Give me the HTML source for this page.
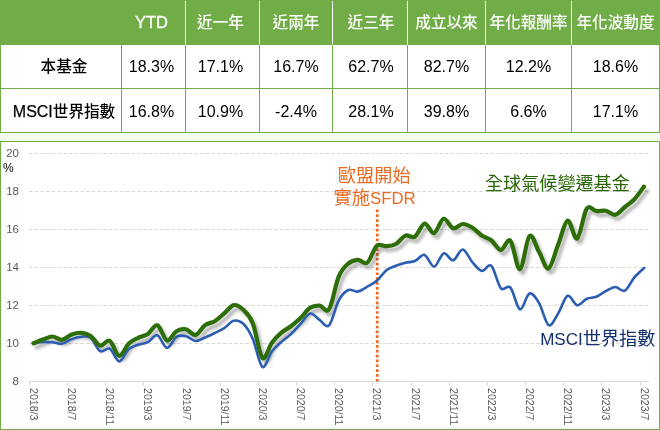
<!DOCTYPE html>
<html><head><meta charset="utf-8"><style>
*{margin:0;padding:0;box-sizing:border-box}
html,body{width:660px;height:430px;background:#fff;overflow:hidden}
body{position:relative;font-family:"Liberation Sans","Noto Sans CJK TC",sans-serif}
.hdr{position:absolute;left:0;top:0;width:660px;height:45px;background:#70AD47}
.tb{position:absolute;left:0;top:45px;width:660px;height:88px;border:1px solid #70AD47;border-top:none}
.hl{position:absolute;left:0;width:660px;height:1px;background:#70AD47}
.gap{position:absolute;left:0;top:133px;width:660px;height:8px;background:#F3FCEE}
.vw{position:absolute;top:1px;width:1px;height:44px;background:#fff}
.vg{position:absolute;top:45px;width:1px;height:88px;background:#70AD47}
.c{will-change:transform;position:absolute;display:flex;align-items:center;justify-content:center;font-size:16px;color:#000;white-space:nowrap}
.c0{-webkit-text-stroke:0.25px #000}
.c.h{color:#fff;-webkit-text-stroke:0}
.cj{-webkit-text-stroke:0}
.c.h .cj{font-weight:500;top:-2px}
.ytd{font-size:16.5px;-webkit-text-stroke:0.35px #fff}
.cj{position:relative;top:-1.5px;font-weight:500;font-size:15.6px}
.chart{position:absolute;left:0;top:141px;width:660px;height:289px;border:1px solid #70AD47}
svg{position:absolute;left:0;top:0;will-change:transform}
.gl{stroke:#D9D9D9;stroke-width:1;stroke-dasharray:3.7 2}
.ax{stroke:#D9D9D9;stroke-width:1}
.yl{font-size:11.5px;fill:#595959;text-anchor:end;font-family:"Liberation Sans",sans-serif}
.xl{font-size:10.6px;fill:#595959;font-family:"Liberation Sans",sans-serif}
</style></head><body>
<div class="hdr"></div>
<div class="tb"></div>
<div class="hl" style="top:88px"></div>
<div class="gap"></div>
<div class="vw" style="left:185px"></div><div class="vw" style="left:259px"></div><div class="vw" style="left:332px"></div><div class="vw" style="left:407px"></div><div class="vw" style="left:485px"></div><div class="vw" style="left:571px"></div><div class="vg" style="left:121px"></div><div class="vg" style="left:185px"></div><div class="vg" style="left:259px"></div><div class="vg" style="left:332px"></div><div class="vg" style="left:407px"></div><div class="vg" style="left:485px"></div><div class="vg" style="left:571px"></div>
<div class="c h" style="left:4.0px;width:120px;top:0;height:45px"></div><div class="c" style="left:4.0px;width:120px;top:45px;height:43px"><span class="cj">本基金</span></div><div class="c c0" style="left:4.0px;width:120px;top:90.3px;height:43px">MSCI<span class="cj">世界指數</span></div><div class="c h" style="left:120.0px;width:63px;top:0;height:45px"><span class="ytd">YTD</span></div><div class="c" style="left:120.0px;width:63px;top:45px;height:43px">18.3%</div><div class="c" style="left:120.0px;width:63px;top:90.3px;height:43px">16.8%</div><div class="c h" style="left:183.5px;width:73px;top:0;height:45px"><span class="cj">近一年</span></div><div class="c" style="left:183.5px;width:73px;top:45px;height:43px">17.1%</div><div class="c" style="left:183.5px;width:73px;top:90.3px;height:43px">10.9%</div><div class="c h" style="left:260.0px;width:72px;top:0;height:45px"><span class="cj">近兩年</span></div><div class="c" style="left:260.0px;width:72px;top:45px;height:43px">16.7%</div><div class="c" style="left:260.0px;width:72px;top:90.3px;height:43px">-2.4%</div><div class="c h" style="left:333.5px;width:74px;top:0;height:45px"><span class="cj">近三年</span></div><div class="c" style="left:333.5px;width:74px;top:45px;height:43px">62.7%</div><div class="c" style="left:333.5px;width:74px;top:90.3px;height:43px">28.1%</div><div class="c h" style="left:408.0px;width:77px;top:0;height:45px"><span class="cj">成立以來</span></div><div class="c" style="left:408.0px;width:77px;top:45px;height:43px">82.7%</div><div class="c" style="left:408.0px;width:77px;top:90.3px;height:43px">39.8%</div><div class="c h" style="left:486.0px;width:85px;top:0;height:45px"><span class="cj">年化報酬率</span></div><div class="c" style="left:486.0px;width:85px;top:45px;height:43px">12.2%</div><div class="c" style="left:486.0px;width:85px;top:90.3px;height:43px">6.6%</div><div class="c h" style="left:572.0px;width:87px;top:0;height:45px"><span class="cj">年化波動度</span></div><div class="c" style="left:572.0px;width:87px;top:45px;height:43px">18.6%</div><div class="c" style="left:572.0px;width:87px;top:90.3px;height:43px">17.1%</div>
<div class="chart"></div>
<svg width="660" height="430" viewBox="0 0 660 430">
<defs><filter id="sh" x="-5%" y="-20%" width="110%" height="140%"><feGaussianBlur in="SourceAlpha" stdDeviation="1.6"/><feOffset dx="2.5" dy="3.5" result="b"/><feFlood flood-color="#000" flood-opacity="0.28"/><feComposite in2="b" operator="in"/></filter></defs>
<line x1="29" x2="649" y1="343.5" y2="343.5" class="gl"/><line x1="29" x2="649" y1="305.5" y2="305.5" class="gl"/><line x1="29" x2="649" y1="267.5" y2="267.5" class="gl"/><line x1="29" x2="649" y1="229.5" y2="229.5" class="gl"/><line x1="29" x2="649" y1="191.5" y2="191.5" class="gl"/><line x1="29" x2="649" y1="153.5" y2="153.5" class="gl"/>
<line x1="29" x2="649" y1="381.5" y2="381.5" class="ax"/>
<line x1="29.5" x2="29.5" y1="381.5" y2="385.5" class="ax"/><line x1="67.5" x2="67.5" y1="381.5" y2="385.5" class="ax"/><line x1="105.5" x2="105.5" y1="381.5" y2="385.5" class="ax"/><line x1="143.5" x2="143.5" y1="381.5" y2="385.5" class="ax"/><line x1="182.5" x2="182.5" y1="381.5" y2="385.5" class="ax"/><line x1="220.5" x2="220.5" y1="381.5" y2="385.5" class="ax"/><line x1="258.5" x2="258.5" y1="381.5" y2="385.5" class="ax"/><line x1="296.5" x2="296.5" y1="381.5" y2="385.5" class="ax"/><line x1="334.5" x2="334.5" y1="381.5" y2="385.5" class="ax"/><line x1="372.5" x2="372.5" y1="381.5" y2="385.5" class="ax"/><line x1="411.5" x2="411.5" y1="381.5" y2="385.5" class="ax"/><line x1="449.5" x2="449.5" y1="381.5" y2="385.5" class="ax"/><line x1="487.5" x2="487.5" y1="381.5" y2="385.5" class="ax"/><line x1="525.5" x2="525.5" y1="381.5" y2="385.5" class="ax"/><line x1="563.5" x2="563.5" y1="381.5" y2="385.5" class="ax"/><line x1="601.5" x2="601.5" y1="381.5" y2="385.5" class="ax"/><line x1="640.5" x2="640.5" y1="381.5" y2="385.5" class="ax"/>
<text x="19" y="384.8" class="yl">8</text><text x="19" y="346.8" class="yl">10</text><text x="19" y="308.9" class="yl">12</text><text x="19" y="270.9" class="yl">14</text><text x="19" y="232.9" class="yl">16</text><text x="19" y="195.0" class="yl">18</text><text x="19" y="157.0" class="yl">20</text>
<text x="3" y="171.5" style="font-size:12px;fill:#000;font-family:'Liberation Sans',sans-serif">%</text>
<text transform="translate(29.8 388) rotate(90)" class="xl">2018/3</text><text transform="translate(67.8 388) rotate(90)" class="xl">2018/7</text><text transform="translate(105.8 388) rotate(90)" class="xl">2018/11</text><text transform="translate(143.8 388) rotate(90)" class="xl">2019/3</text><text transform="translate(182.8 388) rotate(90)" class="xl">2019/7</text><text transform="translate(220.8 388) rotate(90)" class="xl">2019/11</text><text transform="translate(258.8 388) rotate(90)" class="xl">2020/3</text><text transform="translate(296.8 388) rotate(90)" class="xl">2020/7</text><text transform="translate(334.8 388) rotate(90)" class="xl">2020/11</text><text transform="translate(372.8 388) rotate(90)" class="xl">2021/3</text><text transform="translate(411.8 388) rotate(90)" class="xl">2021/7</text><text transform="translate(449.8 388) rotate(90)" class="xl">2021/11</text><text transform="translate(487.8 388) rotate(90)" class="xl">2022/3</text><text transform="translate(525.8 388) rotate(90)" class="xl">2022/7</text><text transform="translate(563.8 388) rotate(90)" class="xl">2022/11</text><text transform="translate(601.8 388) rotate(90)" class="xl">2023/3</text><text transform="translate(640.8 388) rotate(90)" class="xl">2023/7</text>
<line x1="377.2" x2="377.2" y1="209.5" y2="382" stroke="#F0661A" stroke-width="2.7" stroke-dasharray="2.7 2.14"/>
<path d="M33.4 343.3C35.0 342.7 39.8 340.7 42.9 339.6C46.1 338.5 49.3 336.5 52.5 336.5C55.7 336.5 58.8 340.1 62.0 339.8C65.2 339.5 68.4 335.7 71.6 334.5C74.7 333.3 77.9 332.6 81.1 332.8C84.3 333.0 87.5 333.8 90.6 335.9C93.8 338.0 97.0 344.8 100.2 345.6C103.4 346.4 106.5 339.2 109.7 340.9C112.9 342.6 116.1 355.4 119.3 355.8C122.4 356.2 125.6 346.6 128.8 343.6C132.0 340.6 135.2 339.4 138.3 337.8C141.5 336.2 144.7 336.1 147.9 334.0C151.1 331.9 154.2 324.2 157.4 325.3C160.6 326.4 163.8 339.5 167.0 340.5C170.1 341.5 173.3 333.1 176.5 331.2C179.7 329.3 182.9 328.7 186.0 329.3C189.2 329.9 192.4 335.6 195.6 334.9C198.8 334.2 201.9 327.4 205.1 325.1C208.3 322.8 211.5 323.1 214.7 321.2C217.8 319.2 221.0 316.1 224.2 313.4C227.4 310.7 230.6 305.7 233.7 305.1C236.9 304.5 240.1 306.8 243.3 309.8C246.5 312.9 249.6 315.4 252.8 323.4C256.0 331.4 259.2 354.7 262.4 357.9C265.5 361.1 268.7 346.9 271.9 342.7C275.1 338.5 278.3 335.4 281.4 332.7C284.6 329.9 287.8 328.6 291.0 326.2C294.2 323.8 297.3 321.2 300.5 318.1C303.7 315.0 306.9 309.9 310.1 307.8C313.2 305.7 316.4 305.4 319.6 305.6C322.8 305.8 326.0 313.9 329.1 309.1C332.3 304.3 335.5 284.2 338.7 276.6C341.9 269.0 345.0 266.4 348.2 263.6C351.4 260.8 354.6 260.0 357.8 259.8C360.9 259.6 364.1 264.9 367.3 262.6C370.5 260.3 373.7 248.5 376.8 245.8C380.0 243.1 383.2 246.5 386.4 246.2C389.6 245.9 392.7 245.8 395.9 244.0C399.1 242.2 402.3 236.8 405.5 235.6C408.6 234.4 411.8 238.6 415.0 236.6C418.2 234.6 421.4 224.1 424.5 223.5C427.7 222.9 430.9 233.9 434.1 233.1C437.3 232.3 440.4 219.6 443.6 218.8C446.8 218.0 450.0 227.4 453.2 228.3C456.3 229.2 459.5 224.1 462.7 224.0C465.9 223.9 469.1 225.6 472.2 227.5C475.4 229.4 478.6 233.3 481.8 235.4C485.0 237.5 488.1 237.9 491.3 240.3C494.5 242.7 497.7 249.9 500.9 250.0C504.0 250.1 507.2 237.5 510.4 240.7C513.6 243.9 516.8 270.1 519.9 269.3C523.1 268.5 526.3 238.9 529.5 236.0C532.7 233.1 535.8 246.4 539.0 251.8C542.2 257.2 545.4 269.7 548.6 268.5C551.7 267.3 554.9 252.8 558.1 244.8C561.3 236.8 564.5 221.7 567.6 220.6C570.8 219.5 574.0 240.5 577.2 238.5C580.4 236.5 583.5 213.4 586.7 208.8C589.9 204.2 593.1 210.7 596.3 211.0C599.4 211.3 602.6 210.2 605.8 210.8C609.0 211.4 612.2 215.4 615.3 214.8C618.5 214.2 621.7 209.6 624.9 207.0C628.1 204.4 631.2 202.6 634.4 199.2C637.6 195.8 642.4 188.7 644.0 186.6" fill="none" stroke="#000" stroke-width="4.2" stroke-linejoin="round" stroke-linecap="round" filter="url(#sh)"/>
<path d="M33.4 343.3C35.0 343.1 39.8 342.1 42.9 341.9C46.1 341.7 49.3 341.9 52.5 342.2C55.7 342.5 58.8 344.2 62.0 343.7C65.2 343.2 68.4 340.3 71.6 339.1C74.7 337.9 77.9 336.9 81.1 336.7C84.3 336.5 87.5 335.4 90.6 337.8C93.8 340.2 97.0 349.4 100.2 351.2C103.4 353.0 106.5 347.0 109.7 348.7C112.9 350.4 116.1 361.3 119.3 361.4C122.4 361.5 125.6 351.9 128.8 349.1C132.0 346.3 135.2 345.9 138.3 344.7C141.5 343.5 144.7 343.7 147.9 342.1C151.1 340.5 154.2 334.3 157.4 335.3C160.6 336.3 163.8 347.6 167.0 347.9C170.1 348.2 173.3 338.8 176.5 336.9C179.7 334.9 182.9 335.5 186.0 336.2C189.2 336.9 192.4 340.8 195.6 341.0C198.8 341.2 201.9 338.8 205.1 337.5C208.3 336.2 211.5 334.6 214.7 333.0C217.8 331.4 221.0 330.2 224.2 328.2C227.4 326.1 230.6 321.4 233.7 320.7C236.9 320.0 240.1 320.8 243.3 323.8C246.5 326.8 249.6 331.7 252.8 338.9C256.0 346.1 259.2 364.9 262.4 367.0C265.5 369.1 268.7 355.6 271.9 351.4C275.1 347.2 278.3 344.8 281.4 341.9C284.6 339.0 287.8 337.1 291.0 334.1C294.2 331.1 297.3 327.3 300.5 323.9C303.7 320.5 306.9 314.2 310.1 313.5C313.2 312.8 316.4 317.9 319.6 319.9C322.8 321.9 326.0 328.5 329.1 325.3C332.3 322.1 335.5 306.5 338.7 300.6C341.9 294.7 345.0 291.5 348.2 290.0C351.4 288.5 354.6 292.2 357.8 291.6C360.9 291.1 364.1 288.5 367.3 286.7C370.5 284.9 373.7 283.6 376.8 280.8C380.0 278.1 383.2 272.7 386.4 270.2C389.6 267.7 392.7 267.1 395.9 265.8C399.1 264.6 402.3 263.5 405.5 262.7C408.6 261.9 411.8 262.3 415.0 261.0C418.2 259.7 421.4 254.0 424.5 254.9C427.7 255.8 430.9 266.9 434.1 266.6C437.3 266.4 440.4 254.5 443.6 253.4C446.8 252.3 450.0 260.9 453.2 260.3C456.3 259.7 459.5 249.2 462.7 249.5C465.9 249.8 469.1 258.4 472.2 262.0C475.4 265.6 478.6 270.3 481.8 270.9C485.0 271.5 488.1 262.9 491.3 265.8C494.5 268.7 497.7 284.7 500.9 288.3C504.0 291.9 507.2 284.0 510.4 287.5C513.6 291.0 516.8 308.3 519.9 309.3C523.1 310.3 526.3 294.6 529.5 293.5C532.7 292.4 535.8 297.5 539.0 302.8C542.2 308.1 545.4 323.3 548.6 325.1C551.7 326.9 554.9 318.5 558.1 313.6C561.3 308.7 564.5 297.2 567.6 295.8C570.8 294.4 574.0 304.7 577.2 305.2C580.4 305.7 583.5 300.1 586.7 298.7C589.9 297.3 593.1 298.1 596.3 296.8C599.4 295.6 602.6 292.8 605.8 291.2C609.0 289.6 612.2 287.1 615.3 287.0C618.5 286.9 621.7 292.2 624.9 290.6C628.1 289.0 631.2 281.2 634.4 277.4C637.6 273.6 642.4 269.6 644.0 268.0" fill="none" stroke="#2B5EB2" stroke-width="2.6" stroke-linejoin="round" stroke-linecap="round"/>
<path d="M33.4 343.3C35.0 342.7 39.8 340.7 42.9 339.6C46.1 338.5 49.3 336.5 52.5 336.5C55.7 336.5 58.8 340.1 62.0 339.8C65.2 339.5 68.4 335.7 71.6 334.5C74.7 333.3 77.9 332.6 81.1 332.8C84.3 333.0 87.5 333.8 90.6 335.9C93.8 338.0 97.0 344.8 100.2 345.6C103.4 346.4 106.5 339.2 109.7 340.9C112.9 342.6 116.1 355.4 119.3 355.8C122.4 356.2 125.6 346.6 128.8 343.6C132.0 340.6 135.2 339.4 138.3 337.8C141.5 336.2 144.7 336.1 147.9 334.0C151.1 331.9 154.2 324.2 157.4 325.3C160.6 326.4 163.8 339.5 167.0 340.5C170.1 341.5 173.3 333.1 176.5 331.2C179.7 329.3 182.9 328.7 186.0 329.3C189.2 329.9 192.4 335.6 195.6 334.9C198.8 334.2 201.9 327.4 205.1 325.1C208.3 322.8 211.5 323.1 214.7 321.2C217.8 319.2 221.0 316.1 224.2 313.4C227.4 310.7 230.6 305.7 233.7 305.1C236.9 304.5 240.1 306.8 243.3 309.8C246.5 312.9 249.6 315.4 252.8 323.4C256.0 331.4 259.2 354.7 262.4 357.9C265.5 361.1 268.7 346.9 271.9 342.7C275.1 338.5 278.3 335.4 281.4 332.7C284.6 329.9 287.8 328.6 291.0 326.2C294.2 323.8 297.3 321.2 300.5 318.1C303.7 315.0 306.9 309.9 310.1 307.8C313.2 305.7 316.4 305.4 319.6 305.6C322.8 305.8 326.0 313.9 329.1 309.1C332.3 304.3 335.5 284.2 338.7 276.6C341.9 269.0 345.0 266.4 348.2 263.6C351.4 260.8 354.6 260.0 357.8 259.8C360.9 259.6 364.1 264.9 367.3 262.6C370.5 260.3 373.7 248.5 376.8 245.8C380.0 243.1 383.2 246.5 386.4 246.2C389.6 245.9 392.7 245.8 395.9 244.0C399.1 242.2 402.3 236.8 405.5 235.6C408.6 234.4 411.8 238.6 415.0 236.6C418.2 234.6 421.4 224.1 424.5 223.5C427.7 222.9 430.9 233.9 434.1 233.1C437.3 232.3 440.4 219.6 443.6 218.8C446.8 218.0 450.0 227.4 453.2 228.3C456.3 229.2 459.5 224.1 462.7 224.0C465.9 223.9 469.1 225.6 472.2 227.5C475.4 229.4 478.6 233.3 481.8 235.4C485.0 237.5 488.1 237.9 491.3 240.3C494.5 242.7 497.7 249.9 500.9 250.0C504.0 250.1 507.2 237.5 510.4 240.7C513.6 243.9 516.8 270.1 519.9 269.3C523.1 268.5 526.3 238.9 529.5 236.0C532.7 233.1 535.8 246.4 539.0 251.8C542.2 257.2 545.4 269.7 548.6 268.5C551.7 267.3 554.9 252.8 558.1 244.8C561.3 236.8 564.5 221.7 567.6 220.6C570.8 219.5 574.0 240.5 577.2 238.5C580.4 236.5 583.5 213.4 586.7 208.8C589.9 204.2 593.1 210.7 596.3 211.0C599.4 211.3 602.6 210.2 605.8 210.8C609.0 211.4 612.2 215.4 615.3 214.8C618.5 214.2 621.7 209.6 624.9 207.0C628.1 204.4 631.2 202.6 634.4 199.2C637.6 195.8 642.4 188.7 644.0 186.6" fill="none" stroke="#2E6E08" stroke-width="4.2" stroke-linejoin="round" stroke-linecap="round"/>
<text x="374.2" y="182" text-anchor="middle" style="font-size:18.2px;fill:#EA6A22;font-family:'Liberation Sans','Noto Sans CJK TC',sans-serif">歐盟開始</text>
<text x="374.6" y="204" text-anchor="middle" style="font-size:18.2px;fill:#EA6A22;font-family:'Liberation Sans','Noto Sans CJK TC',sans-serif">實施<tspan style="font-size:16.8px">SFDR</tspan></text>
<text x="485" y="190" style="font-size:18.1px;fill:#296606;font-family:'Liberation Sans','Noto Sans CJK TC',sans-serif">全球氣候變遷基金</text>
<text x="540.2" y="344.8" style="font-size:18.2px;fill:#14306C;font-family:'Liberation Sans','Noto Sans CJK TC',sans-serif"><tspan style="font-size:17px">MSCI</tspan>世界指數</text>
</svg>
</body></html>
